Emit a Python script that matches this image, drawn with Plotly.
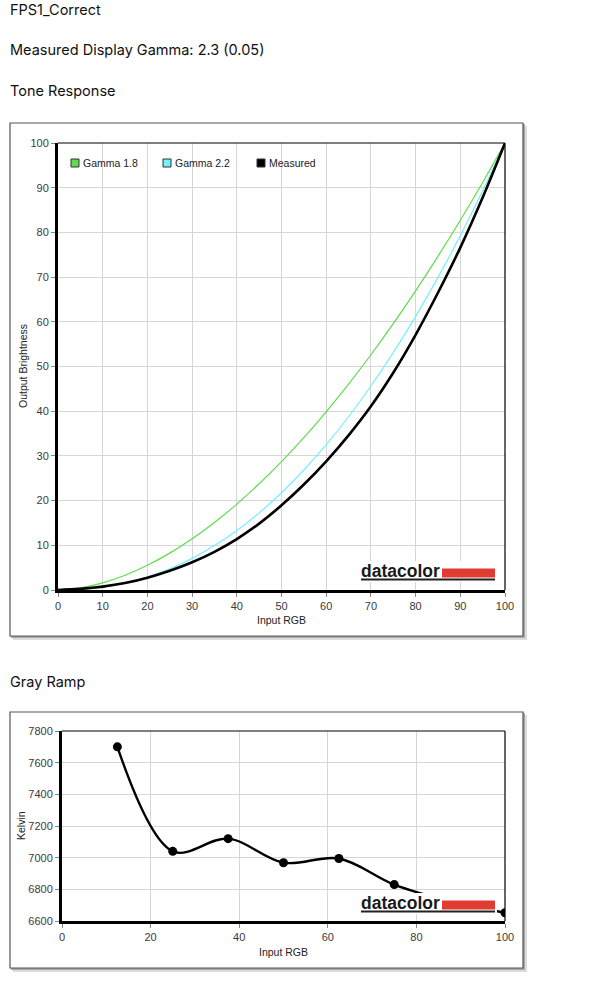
import plotly.graph_objects as go

# ---------------- data ----------------
tone_x = [0, 5, 10, 15, 20, 25, 30, 35, 40, 45, 50, 55, 60, 65, 70, 75, 80, 85, 90, 95, 100]
gamma_18 = [0, 0.46, 1.58, 3.29, 5.52, 8.25, 11.45, 15.11, 19.22, 23.76, 28.72, 34.09, 39.87,
            46.05, 52.63, 59.58, 66.92, 74.64, 82.72, 91.18, 100]
gamma_22 = [0, 0.14, 0.63, 1.54, 2.90, 4.74, 7.07, 9.93, 13.32, 17.26, 21.76, 26.84, 32.50,
            38.76, 45.63, 53.10, 61.21, 69.94, 79.31, 89.33, 100]
measured = [0, 0.25, 0.75, 1.55, 2.75, 4.3, 6.2, 8.55, 11.4, 14.85, 18.95, 23.6, 28.8,
            34.6, 41.1, 48.6, 57.1, 66.5, 76.6, 87.8, 100]

ramp_x = [12.5, 25, 37.5, 50, 62.5, 75, 87.5, 100]
ramp_kelvin = [7700, 7040, 7120, 6968, 6995, 6830, 6725, 6652]

tone_ticks = [0, 10, 20, 30, 40, 50, 60, 70, 80, 90, 100]
ramp_xticks = [0, 20, 40, 60, 80, 100]
ramp_yticks = [6600, 6800, 7000, 7200, 7400, 7600, 7800]

legend_names = ["Gamma 1.8", "Gamma 2.2", "Measured"]

# ---------------- layout helpers ----------------
W, H = 599, 994
def px(x):
    return x / W
def py(y):
    return 1 - y / H

GREEN = "#5fdc4c"
CYAN = "#74f0ff"
BLACK = "#000000"
TICKFONT = dict(family="Liberation Sans, Arial, sans-serif", size=11, color="#3a3a3a")
LBLFONT = dict(family="Liberation Sans, Arial, sans-serif", size=10.5, color="#222")
HEADFONT = dict(family="Inter, Roboto, sans-serif", size=14.5, color="#111")

# plot areas (pixels)
P1 = dict(l=58, r=505, t=143, b=590)
P2 = dict(l=62, r=505, t=731, b=921)
B1 = dict(l=10, r=523, t=123, b=636)
B2 = dict(l=10, r=523, t=712, b=968)

fig = go.Figure()

fig.add_trace(go.Scatter(x=tone_x, y=gamma_18, mode="lines", line=dict(color=GREEN, width=1.2, shape="spline"),
                         name=legend_names[0], showlegend=False, xaxis="x", yaxis="y"))
fig.add_trace(go.Scatter(x=tone_x, y=gamma_22, mode="lines", line=dict(color=CYAN, width=1.2, shape="spline"),
                         name=legend_names[1], showlegend=False, xaxis="x", yaxis="y"))
fig.add_trace(go.Scatter(x=tone_x, y=measured, mode="lines", line=dict(color=BLACK, width=2.6, shape="spline"),
                         name=legend_names[2], showlegend=False, xaxis="x", yaxis="y"))

fig.add_trace(go.Scatter(x=ramp_x, y=ramp_kelvin, mode="lines+markers",
                         line=dict(color=BLACK, width=2.4, shape="spline", smoothing=1),
                         marker=dict(color=BLACK, size=9),
                         showlegend=False, xaxis="x2", yaxis="y2"))

axis_common = dict(showline=True, linewidth=3, linecolor="black", ticks="outside", ticklen=4,
                   tickcolor="#888", tickwidth=1, showgrid=True, gridcolor="#d6d6d6", gridwidth=1.3,
                   zeroline=False, tickfont=TICKFONT, fixedrange=True, automargin=False)

layout = dict(
    template="none",
    width=W, height=H, margin=dict(l=0, r=0, t=0, b=0, pad=0, autoexpand=False),
    paper_bgcolor="white", plot_bgcolor="rgba(0,0,0,0)", showlegend=False,
    xaxis=dict(domain=[px(P1["l"]), px(P1["r"])], range=[0, 100], tickvals=tone_ticks, anchor="y", **axis_common),
    yaxis=dict(domain=[py(P1["b"]), py(P1["t"])], range=[0, 100], tickvals=tone_ticks, anchor="x", **axis_common),
    xaxis2=dict(domain=[px(P2["l"]), px(P2["r"])], range=[0, 100], tickvals=ramp_xticks, anchor="y2", **axis_common),
    yaxis2=dict(domain=[py(P2["b"]), py(P2["t"])], range=[6600, 7800], tickvals=ramp_yticks, anchor="x2", **axis_common),
)
fig.update_layout(**layout)

shapes = []
annotations = []

# frames with shadows
for B in (B1, B2):
    shapes.append(dict(type="rect", xref="paper", yref="paper", layer="below",
                       x0=px(B["l"] + 3), x1=px(B["r"] + 4), y0=py(B["b"] + 4), y1=py(B["t"] + 3),
                       fillcolor="#dcdcdc", line=dict(width=0)))
    shapes.append(dict(type="rect", xref="paper", yref="paper", layer="below",
                       x0=px(B["l"] + 1), x1=px(B["r"] + 2), y0=py(B["b"] + 2), y1=py(B["t"] + 1),
                       fillcolor="#a8a8a8", line=dict(width=0)))
    shapes.append(dict(type="rect", xref="paper", yref="paper", layer="below",
                       x0=px(B["l"]), x1=px(B["r"]), y0=py(B["b"]), y1=py(B["t"]),
                       fillcolor="white", line=dict(color="#555", width=1.2)))

# thin top/right plot borders
for P in (P1, P2):
    shapes.append(dict(type="line", xref="paper", yref="paper", layer="above",
                       x0=px(P["l"]), x1=px(P["r"]), y0=py(P["t"]), y1=py(P["t"]),
                       line=dict(color="black", width=1.2)))
    shapes.append(dict(type="line", xref="paper", yref="paper", layer="above",
                       x0=px(P["r"]), x1=px(P["r"]), y0=py(P["t"]), y1=py(P["b"]),
                       line=dict(color="black", width=1.2)))

# datacolor logos
for (top, base) in ((562, 577), (894, 909)):
    shapes.append(dict(type="rect", xref="paper", yref="paper", layer="above",
                       x0=px(359), x1=px(497), y0=py(base + 5), y1=py(top - 1),
                       fillcolor="white", line=dict(width=0)))
    shapes.append(dict(type="rect", xref="paper", yref="paper", layer="above",
                       x0=px(442), x1=px(495), y0=py(base + 0.5), y1=py(base - 8.5),
                       fillcolor="#e03c31", line=dict(width=0)))
    shapes.append(dict(type="line", xref="paper", yref="paper", layer="above",
                       x0=px(361), x1=px(495), y0=py(base + 2.5), y1=py(base + 2.5),
                       line=dict(color="#222", width=1.8)))
    annotations.append(dict(text="<b>datacolor</b>", xref="paper", yref="paper", x=px(359), y=py(base - 6),
                            xanchor="left", yanchor="middle", showarrow=False,
                            font=dict(family="Liberation Sans, Arial, sans-serif", size=17.5, color="#1a1a1a")))

# manual legend
legend_cols = [GREEN, CYAN, BLACK]
legend_sq = [71, 163, 257]
for name, col, x0 in zip(legend_names, legend_cols, legend_sq):
    shapes.append(dict(type="rect", xref="paper", yref="paper", layer="above",
                       x0=px(x0), x1=px(x0 + 8), y0=py(167), y1=py(159),
                       fillcolor=col, line=dict(color="#333", width=1)))
    annotations.append(dict(text=name, xref="paper", yref="paper", x=px(x0 + 10), y=py(163),
                            xanchor="left", yanchor="middle", showarrow=False, font=LBLFONT))

# headings
for txt, y in (("FPS1_Correct", 10), ("Measured Display Gamma: 2.3 (0.05)", 49),
               ("Tone Response", 91), ("Gray Ramp", 681)):
    annotations.append(dict(text=txt, xref="paper", yref="paper", x=px(8), y=py(y),
                            xanchor="left", yanchor="middle", showarrow=False, font=HEADFONT))

# axis titles
annotations.append(dict(text="Input RGB", xref="paper", yref="paper", x=px(281), y=py(620),
                        xanchor="center", yanchor="middle", showarrow=False, font=LBLFONT))
annotations.append(dict(text="Output Brightness", xref="paper", yref="paper", x=px(23), y=py(366),
                        xanchor="center", yanchor="middle", showarrow=False, textangle=-90, font=LBLFONT))
annotations.append(dict(text="Input RGB", xref="paper", yref="paper", x=px(283), y=py(952),
                        xanchor="center", yanchor="middle", showarrow=False, font=LBLFONT))
annotations.append(dict(text="Kelvin", xref="paper", yref="paper", x=px(21), y=py(826),
                        xanchor="center", yanchor="middle", showarrow=False, textangle=-90, font=LBLFONT))

fig.update_layout(shapes=shapes, annotations=annotations)
fig.write_html("out.html", config={"displayModeBar": False},
               post_script="document.body.style.margin='0';document.body.style.padding='0';"
                           "document.documentElement.style.overflow='hidden';document.body.style.overflow='hidden';")
